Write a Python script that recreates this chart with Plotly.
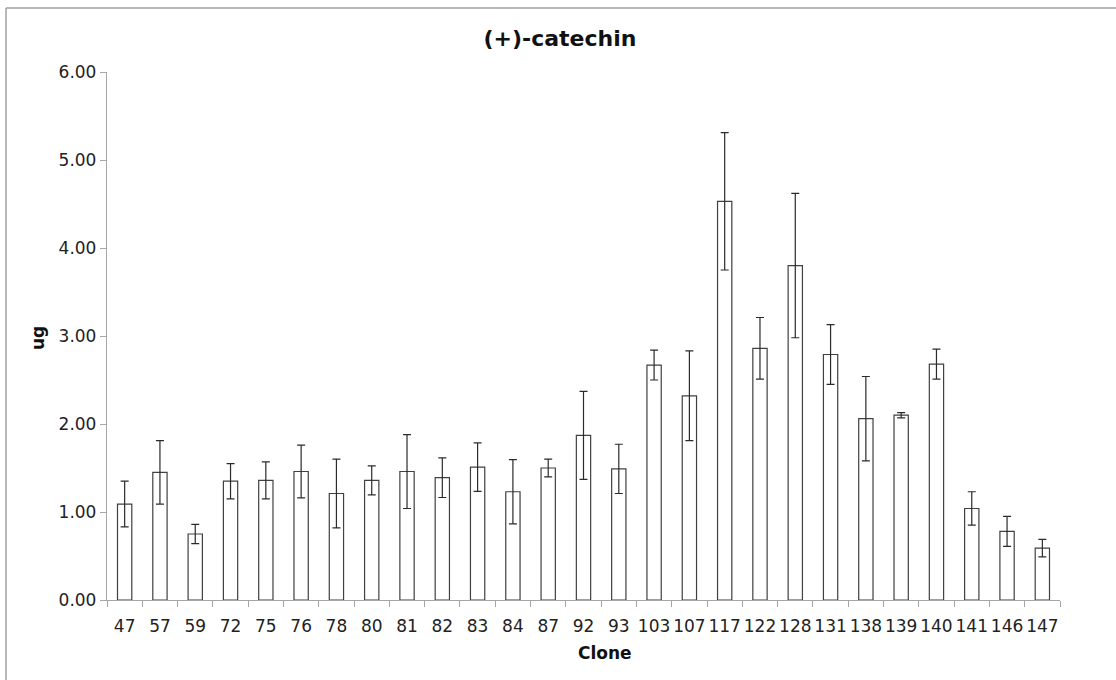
import plotly.graph_objects as go

# Clone identifiers along the x axis
clones = ["47", "57", "59", "72", "75", "76", "78", "80", "81", "82", "83", "84",
          "87", "92", "93", "103", "107", "117", "122", "128", "131", "138",
          "139", "140", "141", "146", "147"]

# Mean (+)-catechin content per clone (ug)
catechin_ug = [1.09, 1.45, 0.75, 1.35, 1.36, 1.46, 1.21, 1.36, 1.46, 1.39, 1.51, 1.23,
               1.50, 1.87, 1.49, 2.67, 2.32, 4.53, 2.86, 3.80, 2.79, 2.06,
               2.10, 2.68, 1.04, 0.78, 0.59]

# Standard deviation for each clone
catechin_sd = [0.26, 0.36, 0.11, 0.20, 0.21, 0.30, 0.39, 0.165, 0.42, 0.225, 0.275, 0.365,
               0.10, 0.50, 0.28, 0.17, 0.51, 0.78, 0.35, 0.82, 0.34, 0.48,
               0.03, 0.17, 0.19, 0.17, 0.10]

y_ticks = [0, 1, 2, 3, 4, 5, 6]

FONT = "DejaVu Sans"
AXIS_GREY = "#a6a6a6"

# plot-area geometry in pixels
W, H = 1116, 680
ML, MR, MT, MB = 107, 56, 72, 80
PW, PH = W - ML - MR, H - MT - MB

fig = go.Figure(
    go.Bar(
        x=clones,
        y=catechin_ug,
        marker=dict(color="white", line=dict(color="#404040", width=1.2)),
        error_y=dict(type="data", array=catechin_sd, visible=True,
                     color="#2b2b2b", thickness=1.2, width=4),
        showlegend=False,
    )
)

fig.update_layout(
    width=W,
    height=H,
    paper_bgcolor="white",
    plot_bgcolor="white",
    margin=dict(l=ML, r=MR, t=MT, b=MB),
    bargap=0.595,
    font=dict(family=FONT, color="#222222"),
    title=dict(text="<b>(+)-catechin</b>", x=560 / W, xanchor="center",
               y=1 - 38 / H, yanchor="middle",
               font=dict(family=FONT, size=22, color="#111111")),
    xaxis=dict(
        type="category",
        showline=True, linecolor=AXIS_GREY, linewidth=1.3,
        ticks="outside", tickson="boundaries", ticklen=6, tickcolor=AXIS_GREY,
        tickangle=0,
        tickfont=dict(family=FONT, size=17, color="#222222"),
        ticklabelstandoff=10,
        showgrid=False, zeroline=False,
    ),
    yaxis=dict(
        range=[0, 6],
        tickvals=y_ticks,
        tickformat=".2f",
        showline=True, linecolor=AXIS_GREY, linewidth=1.3,
        ticks="outside", ticklen=6, tickcolor=AXIS_GREY,
        tickfont=dict(family=FONT, size=17, color="#222222"),
        ticklabelstandoff=0,
        showgrid=False, zeroline=False,
    ),
    annotations=[
        dict(text="<b>Clone</b>", xref="paper", yref="paper",
             x=(605 - ML) / PW, y=-(653 - (H - MB)) / PH,
             xanchor="center", yanchor="middle", showarrow=False,
             font=dict(family=FONT, size=17, color="#111111")),
        dict(text="<b>ug</b>", xref="paper", yref="paper",
             x=-(ML - 38) / PW, y=((H - MB) - 338) / PH,
             xanchor="center", yanchor="middle", textangle=-90, showarrow=False,
             font=dict(family=FONT, size=17, color="#111111")),
    ],
    shapes=[
        # chart frame: top and left edges
        dict(type="line", xref="paper", yref="paper",
             x0=-(ML - 6) / PW, x1=(W - ML) / PW,
             y0=(H - MB - 8) / PH, y1=(H - MB - 8) / PH,
             line=dict(color="#a0a0a0", width=1.5)),
        dict(type="line", xref="paper", yref="paper",
             x0=-(ML - 6) / PW, x1=-(ML - 6) / PW,
             y0=-MB / PH, y1=(H - MB - 8) / PH,
             line=dict(color="#a0a0a0", width=1.5)),
    ],
)

fig.write_html("out.html")
